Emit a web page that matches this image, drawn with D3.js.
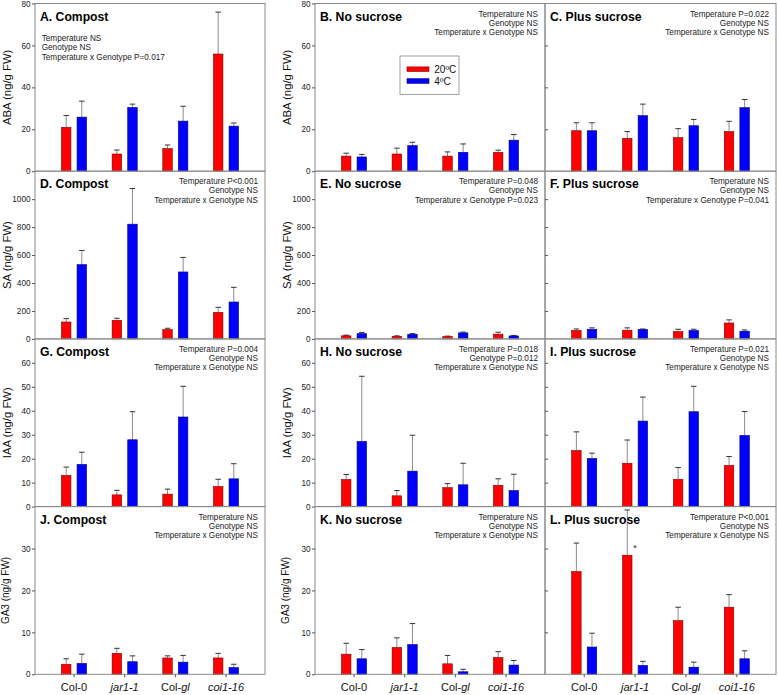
<!DOCTYPE html>
<html>
<head>
<meta charset="utf-8">
<script src="https://cdn.jsdelivr.net/npm/d3@7"></script>
<style>
    body { margin: 0; background: #fff; }
    svg { display: block; font-family: "Liberation Sans", Arial, sans-serif; }
</style>
</head>
<body>
<svg id="chart" width="778" height="695"></svg>
<script>

//
// ***********************************************************************************
//                      DATA
//
// ***********************************************************************************
//

const genotypes = ["Col-0", "jar1-1", "Col-gl", "coi1-16"];
const temperatures = ["20ºC", "4ºC"];
const conditions = ["Compost", "No sucrose", "Plus sucrose"];
const hormones = ["ABA", "SA", "IAA", "GA3"];
const yMax = [80, 1200, 70, 40];
const yStep = [20, 200, 10, 10];

// Each array: one row per condition (Compost, No sucrose, Plus sucrose), one value per genotype.
const abaMean20 = [[20.9, 8.2, 10.8, 55.9], [7.2, 8.2, 7.2, 9.0], [19.3, 15.7, 16.0, 18.9]];
const abaSe20   = [[5.7, 1.9, 1.7, 20.0], [1.4, 2.8, 2.0, 1.0], [3.8, 3.2, 4.3, 4.9]];
const abaMean4  = [[25.8, 30.4, 23.9, 21.5], [6.8, 12.2, 9.0, 14.8], [19.3, 26.5, 21.7, 30.3]];
const abaSe4    = [[7.6, 1.6, 7.1, 1.5], [1.2, 1.6, 4.0, 2.7], [3.8, 5.5, 3.0, 3.9]];

const saMean20 = [[121, 133, 67, 190], [22, 18, 16, 34], [60, 62, 52, 114]];
const saSe20   = [[24, 15, 9, 36], [5, 4, 4, 14], [11, 17, 17, 22]];
const saMean4  = [[531, 821, 479, 264], [38, 33, 43, 21], [69, 67, 60, 55]];
const saSe4    = [[102, 255, 104, 105], [8, 5, 6, 4], [10, 4, 9, 9]];

const iaaMean20 = [[13.0, 4.9, 5.2, 8.4], [11.3, 4.5, 7.9, 8.9], [23.4, 18.1, 11.4, 17.2]];
const iaaSe20   = [[3.5, 1.9, 2.1, 3.0], [2.1, 2.2, 1.7, 2.7], [7.8, 9.7, 4.9, 3.7]];
const iaaMean4  = [[17.6, 27.9, 37.4, 11.6], [27.2, 14.8, 9.1, 6.7], [20.1, 35.7, 39.6, 29.7]];
const iaaSe4    = [[5.1, 11.7, 12.8, 6.3], [27.2, 15.0, 9.0, 6.8], [2.2, 10.0, 10.6, 10.0]];

const ga3Mean20 = [[2.4, 5.0, 3.9, 3.9], [4.8, 6.4, 2.5, 4.0], [24.5, 28.4, 12.8, 16.0]];
const ga3Se20   = [[1.3, 1.2, 0.5, 1.1], [2.6, 2.3, 2.0, 1.4], [6.8, 10.8, 3.2, 3.0]];
const ga3Mean4  = [[2.6, 3.0, 2.9, 1.6], [3.7, 7.1, 0.6, 2.2], [6.5, 2.1, 1.7, 3.7]];
const ga3Se4    = [[2.2, 1.4, 1.6, 0.8], [2.2, 5.0, 0.6, 1.1], [3.3, 1.0, 1.2, 1.9]];

// Two-way ANOVA results, panels A..L.
const statsText = [
    ["Temperature NS", "Genotype NS", "Temperature x Genotype P=0.017"],
    ["Temperature NS", "Genotype NS", "Temperature x Genotype NS"],
    ["Temperature P=0.022", "Genotype NS", "Temperature x Genotype NS"],
    ["Temperature P<0.001", "Genotype NS", "Temperature x Genotype NS"],
    ["Temperature P=0.048", "Genotype NS", "Temperature x Genotype P=0.023"],
    ["Temperature NS", "Genotype NS", "Temperature x Genotype P=0.041"],
    ["Temperature P=0.004", "Genotype NS", "Temperature x Genotype NS"],
    ["Temperature P=0.018", "Genotype P=0.012", "Temperature x Genotype NS"],
    ["Temperature P=0.021", "Genotype NS", "Temperature x Genotype NS"],
    ["Temperature NS", "Genotype NS", "Temperature x Genotype NS"],
    ["Temperature NS", "Genotype NS", "Temperature x Genotype NS"],
    ["Temperature P<0.001", "Genotype NS", "Temperature x Genotype NS"]
];

// Significance mark in panel L.
const asteriskMark = { hormone: "GA3", condition: "Plus sucrose", genotype: "jar1-1", value: 30.4 };

// Genotype tick labels, with the italic parts.
const genotypeLabels = [
    [["Col-0", false]],
    [["jar1-1", true]],
    [["Col-", false], ["gl", true]],
    [["coi1-16", true]]
];

// Table built from the arrays above.
const means = [[abaMean20, abaMean4], [saMean20, saMean4], [iaaMean20, iaaMean4], [ga3Mean20, ga3Mean4]];
const errors = [[abaSe20, abaSe4], [saSe20, saSe4], [iaaSe20, iaaSe4], [ga3Se20, ga3Se4]];

//
// ***********************************************************************************
//                      LAYOUT
//
// ***********************************************************************************
//

const colX = [[35, 265], [315, 545], [545, 776]];
const rowTop = 3.5;
const rowH = 167.7;
const barW = 9.5;
const barOffset = [-7.8, 7.8];
const capW = 5.5;
const fills = ["#ff0000", "#0000ff"];
const strokes = ["#7a0000", "#00007a"];
const frameColor = "#8a8a8a";

const svg = d3.select("#chart");
svg.append("rect").attr("width", 778).attr("height", 695).attr("fill", "#fff");

hormones.forEach((hormone, r) => {
    conditions.forEach((condition, c) => {

        const w = colX[c][1] - colX[c][0];
        const h = rowH;
        const panelIndex = r * 3 + c;
        const g = svg.append("g")
            .attr("transform", `translate(${colX[c][0]},${rowTop + r * rowH})`);

        const x = d3.scalePoint()
            .domain(genotypes)
            .range([0, w])
            .padding(0.77);
        const y = d3.scaleLinear()
            .domain([0, yMax[r]])
            .range([h, 0]);

        // Flatten the two temperatures into one list of bars.
        const bars = genotypes.flatMap((geno, i) => temperatures.map((t, k) => ({
            genotype: geno,
            temp: k,
            mean: means[r][k][c][i],
            se: errors[r][k][c][i]
        })));

        // Error bars (upper only).
        const err = g.append("g");
        err.selectAll("line.whisker")
            .data(bars)
            .join("line")
                .classed("whisker", true)
                .attr("x1", d => x(d.genotype) + barOffset[d.temp])
                .attr("x2", d => x(d.genotype) + barOffset[d.temp])
                .attr("y1", d => y(d.mean))
                .attr("y2", d => y(d.mean + d.se))
                .attr("stroke", "#8c8c8c")
                .attr("stroke-width", 1);
        err.selectAll("line.cap")
            .data(bars)
            .join("line")
                .classed("cap", true)
                .attr("x1", d => x(d.genotype) + barOffset[d.temp] - capW / 2)
                .attr("x2", d => x(d.genotype) + barOffset[d.temp] + capW / 2)
                .attr("y1", d => y(d.mean + d.se))
                .attr("y2", d => y(d.mean + d.se))
                .attr("stroke", "#333")
                .attr("stroke-width", 1);

        // Bars.
        g.append("g")
            .selectAll("rect")
            .data(bars)
            .join("rect")
                .attr("x", d => x(d.genotype) + barOffset[d.temp] - barW / 2)
                .attr("y", d => y(d.mean))
                .attr("width", barW)
                .attr("height", d => h - y(d.mean))
                .attr("fill", d => fills[d.temp])
                .attr("stroke", d => strokes[d.temp])
                .attr("stroke-width", 0.6);

        // Frame.
        g.append("rect")
            .attr("width", w)
            .attr("height", h)
            .attr("fill", "none")
            .attr("stroke", frameColor)
            .attr("stroke-width", 1);

        // Y axis: labelled on the first two columns, inner ticks only on the third.
        const ticks = d3.range(0, yMax[r] + 1e-6, yStep[r]);
        if (c < 2) {
            const axis = g.append("g")
                .call(d3.axisLeft(y)
                    .tickValues(ticks.filter(v => r === 0 || v < yMax[r]))
                    .tickSize(3)
                    .tickPadding(1.5)
                    .tickFormat(d3.format("d")))
                .attr("font-family", null)
                .attr("font-size", 8.2);
            axis.select(".domain").remove();
            axis.selectAll("line").attr("stroke", "#555");
            axis.selectAll("text").attr("fill", "#222");

            // Y axis title.
            g.append("text")
                .attr("transform", `translate(${r === 3 ? -26 : -24},${h / 2}) rotate(-90)`)
                .attr("text-anchor", "middle")
                .attr("font-size", r === 3 ? 10 : 11.3)
                .attr("fill", "#111")
                .text(`${hormone} (ng/g FW)`);
        } else {
            const axis = g.append("g")
                .call(d3.axisRight(y)
                    .tickValues(ticks.filter(v => v > 0 && v < yMax[r]))
                    .tickSize(3)
                    .tickFormat(""));
            axis.select(".domain").remove();
            axis.selectAll("line").attr("stroke", "#555");
        }

        // Panel title.
        g.append("text")
            .attr("x", 5)
            .attr("y", 17)
            .attr("font-size", 12.2)
            .attr("font-weight", "bold")
            .attr("fill", "#000")
            .text(`${String.fromCharCode(65 + panelIndex)}. ${condition}`);

        // ANOVA text.
        const leftStats = panelIndex === 0;
        g.append("g")
            .selectAll("text")
            .data(statsText[panelIndex])
            .join("text")
                .attr("x", leftStats ? 6.7 : w - 7)
                .attr("y", (d, i) => (leftStats ? 37.5 : 13) + i * 9.3)
                .attr("text-anchor", leftStats ? "start" : "end")
                .attr("font-size", 8.2)
                .attr("fill", "#222")
                .text(d => d);

        // Bottom row: genotype ticks and labels.
        if (r === hormones.length - 1) {
            g.append("g")
                .selectAll("line")
                .data(genotypes)
                .join("line")
                    .attr("x1", d => x(d))
                    .attr("x2", d => x(d))
                    .attr("y1", h)
                    .attr("y2", h + 3)
                    .attr("stroke", "#555");
            g.append("g")
                .selectAll("text")
                .data(genotypes)
                .join("text")
                    .attr("x", d => x(d))
                    .attr("y", h + 16.8)
                    .attr("text-anchor", "middle")
                    .attr("font-size", 11)
                    .attr("fill", "#111")
                    .each(function(d, i) {
                        d3.select(this)
                            .selectAll("tspan")
                            .data(genotypeLabels[i])
                            .join("tspan")
                                .attr("font-style", p => p[1] ? "italic" : "normal")
                                .text(p => p[0]);
                    });
        }

        // Significance asterisk.
        if (hormone === asteriskMark.hormone && condition === asteriskMark.condition) {
            g.append("text")
                .attr("x", x(asteriskMark.genotype))
                .attr("y", y(asteriskMark.value) + 4.5)
                .attr("text-anchor", "middle")
                .attr("font-size", 9)
                .attr("fill", "#222")
                .text("*");
        }

        // Legend inside panel B.
        if (r === 0 && c === 1) {
            const legend = g.append("g").attr("transform", "translate(85,52.5)");
            legend.append("rect")
                .attr("width", 59)
                .attr("height", 38.5)
                .attr("fill", "#fff")
                .attr("stroke", frameColor)
                .attr("stroke-width", 0.8);
            const items = legend.selectAll("g.item")
                .data(temperatures)
                .join("g")
                    .classed("item", true)
                    .attr("transform", (d, i) => `translate(7,${13.2 + i * 11.8})`);
            items.append("rect")
                .attr("y", -2.3)
                .attr("width", 22)
                .attr("height", 4.6)
                .attr("fill", (d, i) => fills[i])
                .attr("stroke", (d, i) => strokes[i])
                .attr("stroke-width", 0.6);
            items.append("text")
                .attr("x", 27.3)
                .attr("y", 3.6)
                .attr("font-size", 10)
                .attr("fill", "#111")
                .text(d => d);
        }
    });
});

</script>
</body>
</html>
